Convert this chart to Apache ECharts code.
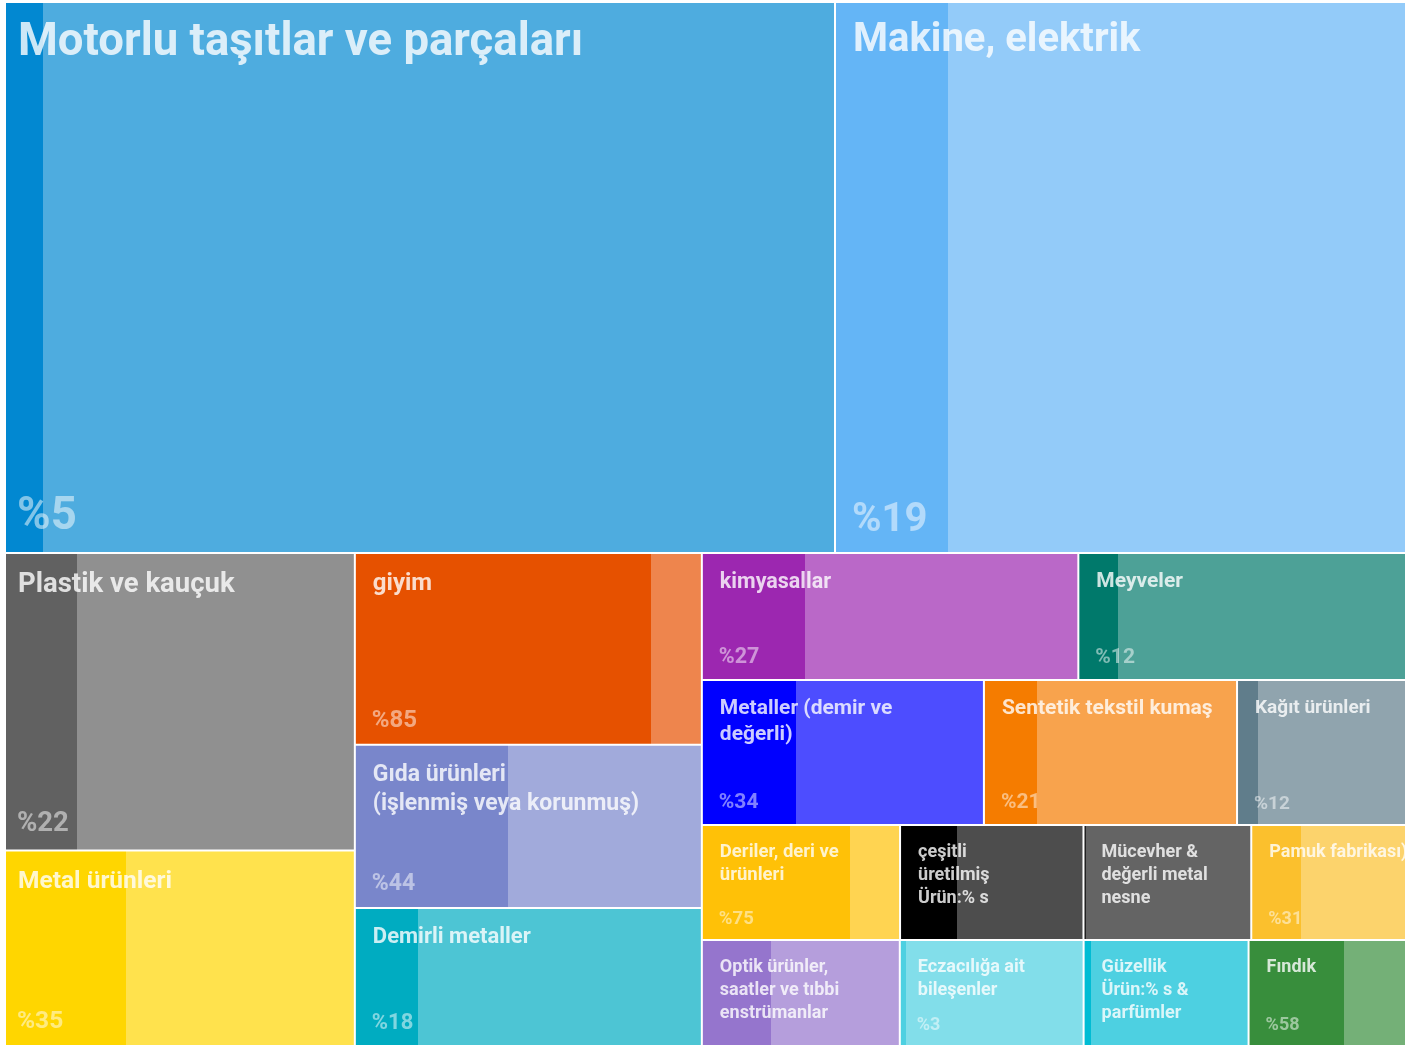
<!DOCTYPE html>
<html>
<head>
<meta charset="utf-8">
<script src="https://cdn.jsdelivr.net/npm/echarts@6/dist/echarts.min.js"></script>
<style>
html,body{margin:0;padding:0;background:#fff;}
#chart{width:1421px;height:1045px;}
</style>
</head>
<body>
<div id="chart"></div>
<script>
// ---------------- DATA ----------------
const categories = [
  'Motorlu taşıtlar ve parçaları',
  'Makine, elektrik',
  'Plastik ve kauçuk',
  'Metal ürünleri',
  'giyim',
  'Gıda ürünleri\n(işlenmiş veya korunmuş)',
  'Demirli metaller',
  'kimyasallar',
  'Meyveler',
  'Metaller (demir ve\ndeğerli)',
  'Sentetik tekstil kumaş',
  'Kağıt ürünleri',
  'Deriler, deri ve\nürünleri',
  'çeşitli\nüretilmiş\nÜrün:% s',
  'Mücevher &\ndeğerli metal\nnesne',
  'Pamuk fabrikası)',
  'Optik ürünler,\nsaatler ve tıbbi\nenstrümanlar',
  'Eczacılığa ait\nbileşenler',
  'Güzellik\nÜrün:% s &\nparfümler',
  'Fındık'
];
const values = [4573, 3146, 1041, 684, 666, 566, 479, 478, 416, 409, 367, 245, 228, 211, 193, 178, 210, 195, 175, 167];
// share of the darker band, in percent (as drawn)
const shares = [4.5, 19.6, 20.3, 34.4, 85.5, 44, 18, 27.4, 12, 33.3, 20.6, 12, 75, 31, 1.2, 32, 35, 3, 4, 61];
const shareLabels = ['%5', '%19', '%22', '%35', '%85', '%44', '%18', '%27', '%12', '%34', '%21', '%12', '%75', '', '', '%31', '', '%3', '', '%58'];

// grouping of the categories (indices) into blocks
const topBlock = [0, 1];
const leftBlock = [[2, 3], [4, [5, 6]]];
const rowBlocks = [[7, 8], [9, 10, 11], [12, 13, 14, 15], [16, 17, 18, 19]];

// ---------------- STYLES ----------------
const darkColors = ['#0288D1', '#64B5F6', '#616161', '#FFD600', '#E65100', '#7986CB', '#00ACC1',
  '#9C27B0', '#00796B', '#0000FF', '#F57C00', '#607D8B', '#FFC107', '#000000', '#212121', '#FBC02D',
  '#9575CD', '#4DD0E1', '#00BCD4', '#388E3C'];
const fontSizes = [45.5, 40, 27.5, 24.5, 24, 23, 22, 21.5, 21, 21, 21, 19, 18.5, 18, 18, 18, 18, 18, 18, 18];
const edgeCells = [0, 2, 3]; // cells touching the left edge

function mixWhite(hex, t) {
  const n = parseInt(hex.slice(1), 16);
  const f = c => Math.round(c + (255 - c) * t);
  return 'rgb(' + f((n >> 16) & 255) + ',' + f((n >> 8) & 255) + ',' + f(n & 255) + ')';
}
function stripe(i) {
  const d = darkColors[i], l = mixWhite(d, 0.3), s = shares[i] / 100;
  return { type: 'linear', x: 0, y: 0, x2: 1, y2: 0, global: false,
    colorStops: [{ offset: 0, color: d }, { offset: s, color: d }, { offset: s, color: l }, { offset: 1, color: l }] };
}
function leaf(i, overlay) {
  const fs = fontSizes[i];
  const lh = Math.round(fs * 1.25);
  const padL = edgeCells.indexOf(i) >= 0 ? 12 : 17;
  if (!overlay) {
    return {
      name: categories[i], value: values[i],
      itemStyle: { color: stripe(i), borderWidth: 1, borderColor: '#fff' },
      label: { fontSize: fs, lineHeight: lh, padding: [Math.round(17 - 0.1 * fs), 0, 0, padL] }
    };
  }
  return {
    name: categories[i], value: values[i],
    itemStyle: { color: 'transparent', borderWidth: 0, borderColor: 'transparent' },
    label: { fontSize: fs, lineHeight: lh, padding: [0, 0, fs > 30 ? 7 : 9, padL] }
  };
}
function build(node, overlay) {
  return Array.isArray(node) ? { name: '', children: node.map(n => build(n, overlay)) } : leaf(node, overlay);
}
function sumOf(node) {
  return Array.isArray(node) ? node.reduce((a, n) => a + sumOf(n), 0) : values[node];
}
const idxByName = {};
categories.forEach((c, i) => { idxByName[c] = i; });

// ---------------- LAYOUT OF BLOCKS (from values) ----------------
const X0 = 5, Y0 = 2, W = 1401, H = 1044;
const total = sumOf([topBlock, leftBlock, rowBlocks]);
const hTop = H * sumOf(topBlock) / total;
const hBottom = H - hTop;
const leftSum = sumOf(leftBlock), rightSum = sumOf(rowBlocks);
const wLeft = W * leftSum / (leftSum + rightSum);

const blocks = [];
blocks.push({ data: topBlock, rect: [X0, Y0, W, hTop], ratio: 1.618 });
blocks.push({ data: leftBlock, rect: [X0, Y0 + hTop, wLeft, hBottom], ratio: 1.34 });
let yy = Y0 + hTop;
rowBlocks.forEach(r => {
  const h = hBottom * sumOf(r) / rightSum;
  blocks.push({ data: r, rect: [X0 + wLeft, yy, W - wLeft, h], ratio: 1.618 });
  yy += h;
});

const series = [];
[false, true].forEach(overlay => {
  blocks.forEach(b => {
    series.push({
      type: 'treemap',
      left: b.rect[0], top: b.rect[1], width: b.rect[2], height: b.rect[3],
      squareRatio: b.ratio,
      sort: false,
      roam: false,
      nodeClick: false,
      silent: overlay,
      animation: false,
      visibleMin: 0,
      breadcrumb: { show: false },
      itemStyle: { borderWidth: 0, gapWidth: 0, borderColor: overlay ? 'transparent' : '#fff' },
      upperLabel: { show: false },
      emphasis: { disabled: true },
      label: overlay ? {
        show: true, position: 'insideBottomLeft', distance: 0,
        color: 'rgba(255,255,255,0.5)', fontFamily: 'Roboto', fontWeight: 'bold',
        overflow: 'none', textBorderWidth: 0,
        formatter: p => (idxByName[p.name] != null ? shareLabels[idxByName[p.name]] : '')
      } : {
        show: true, position: 'insideTopLeft', distance: 0,
        color: 'rgba(255,255,255,0.8)', fontFamily: 'Roboto', fontWeight: 'bold',
        overflow: 'none', textBorderWidth: 0
      },
      data: b.data.map(n => build(n, overlay))
    });
  });
});

const chart = echarts.init(document.getElementById('chart'), null, { renderer: 'canvas' });
chart.setOption({ animation: false, tooltip: { show: false }, series: series });
</script>
</body>
</html>
